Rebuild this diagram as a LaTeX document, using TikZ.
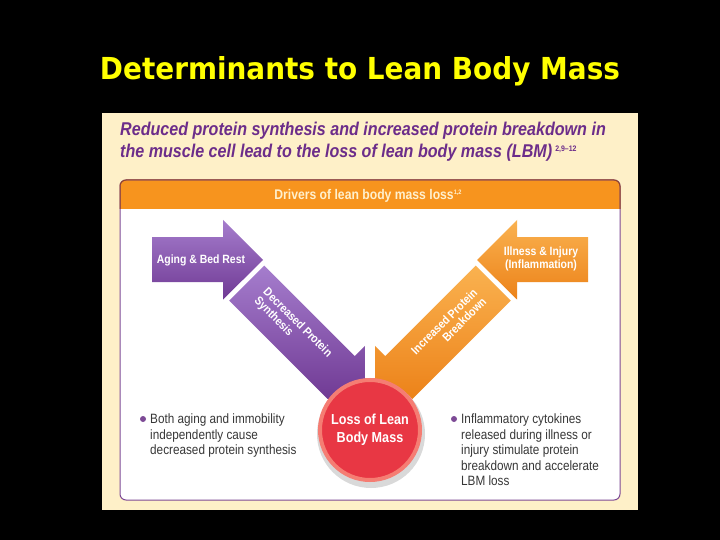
\documentclass[tikz,border=0pt]{standalone}
\usepackage{fontspec}
\setmainfont{Liberation Sans}
\newfontfamily\titlefont{DejaVu Sans}
\newfontfamily\cond{Liberation Sans}[FakeStretch=0.87]
\newfontfamily\bodyf{Liberation Sans}[FakeStretch=0.87]
\definecolor{cream}{RGB}{254,240,200}
\definecolor{hdrpurple}{RGB}{108,45,138}
\definecolor{bandorange}{RGB}{247,148,30}
\definecolor{bandtext}{RGB}{255,240,205}
\definecolor{boxpurple}{RGB}{125,74,150}
\definecolor{bandedge}{RGB}{150,70,40}
\definecolor{pTop}{RGB}{165,125,205}
\definecolor{pBot}{RGB}{112,58,148}
\definecolor{oTop}{RGB}{250,178,80}
\definecolor{oBot}{RGB}{236,130,25}
\definecolor{ring}{RGB}{245,125,115}
\definecolor{discred}{RGB}{232,55,68}
\definecolor{bodytext}{RGB}{55,55,55}
\definecolor{titleyellow}{RGB}{255,255,0}
\tikzset{
  arrowtext/.style={text=white, font=\cond\bfseries\fontsize{12}{12.7}\selectfont, inner sep=0pt},
  bullettext/.style={text=bodytext, font=\bodyf\fontsize{13.5}{15.5}\selectfont, inner sep=0pt, align=left, anchor=north west},
  hdrline/.style={text=hdrpurple, font=\cond\bfseries\itshape\fontsize{18.5}{20}\selectfont, inner sep=0pt, anchor=base west},
  bulletdot/.style={fill=boxpurple}
}
\begin{document}
\begin{tikzpicture}[x=1pt,y=-1pt]
\fill[black] (0,0) rectangle (720,540);
\useasboundingbox (0,0) rectangle (720,540);

% title
\node[anchor=base, inner sep=0pt, text=titleyellow] (title) at (360,80)
  {\resizebox{520pt}{23pt}{\titlefont\bfseries Determinants to Lean Body Mass}};

% panel
\fill[cream] (102,113) rectangle (638,510);
\node[hdrline] (h1) at (120,136) {Reduced protein synthesis and increased protein breakdown in};
\node[hdrline] (h2) at (120,158) {the muscle cell lead to the loss of lean body mass (LBM)\,\raisebox{6pt}{\upshape\fontsize{8}{9}\selectfont 2,9–12}};

% inner box
\begin{scope}
  \clip[rounded corners=6pt] (120,180) rectangle (620,500);
  \fill[white] (120,180) rectangle (620,500);
  \fill[bandorange] (120,180) rectangle (620,209);
\end{scope}
\draw[boxpurple, line width=1pt, rounded corners=6pt] (120,180) rectangle (620,500);
\draw[bandedge, line width=1pt, rounded corners=6pt] (120,209) -- (120,180) -- (620,180) -- (620,209);
\node[anchor=base, inner sep=0pt, text=bandtext, font=\cond\bfseries\fontsize{14}{16}\selectfont] (band) at (368,200)
  {Drivers of lean body mass loss\raisebox{5pt}{\fontsize{6.5}{7}\selectfont 1,2}};

% arrows (purple, then mirrored orange)
\foreach \sx/\ctop/\cbot in {1/pTop/pBot, -1/oTop/oBot}{
  \begin{scope}[shift={(370,0)}, xscale=\sx, shift={(-370,0)}]
    \shade[top color=\ctop, bottom color=\cbot]
      (152,237) -- (223,237) -- (223,220) -- (263,260) -- (223,299.5) -- (223,282) -- (152,282) -- cycle;
    \begin{scope}[shift={(247.6,282.2)}, rotate=-45]
      \shade[top color=\ctop, bottom color=\cbot]
        (0,-23.5) -- (128,-23.5) -- (128,-38) -- (166,0) -- (139,26) -- (0,26) -- cycle;
    \end{scope}
  \end{scope}
}
\node[arrowtext] (aging) at (201,260) {Aging \& Bed Rest};
\node[arrowtext, align=center] (illness) at (541,259) {Illness \& Injury\\(Inflammation)};
\node[arrowtext, align=left, anchor=west, rotate=-45] (dps) at (260.3,294.9) {Decreased Protein\\Synthesis};
\node[arrowtext, align=right, anchor=east, rotate=45] (ipb) at (479.7,294.9) {Increased Protein\\Breakdown};

% circle
\fill[black!15] (371,434) circle (54);
\node[circle, fill=discred, draw=ring, line width=4pt, minimum size=100pt, inner sep=0pt] (loss) at (370,430) {};
\node[text=white, align=center, inner sep=0pt, font=\cond\bfseries\fontsize{14.5}{18}\selectfont] (losstxt) at (370,430) {Loss of Lean\\Body Mass};

% bullets
\fill[bulletdot] (143,419) circle (3);
\node[bullettext] (lefttxt) at (150,414) {Both aging and immobility\\independently cause\\decreased protein synthesis};
\fill[bulletdot] (454,419) circle (3);
\node[bullettext] (righttxt) at (461,414) {Inflammatory cytokines\\released during illness or\\injury stimulate protein\\breakdown and accelerate\\LBM loss};
\end{tikzpicture}
\end{document}
